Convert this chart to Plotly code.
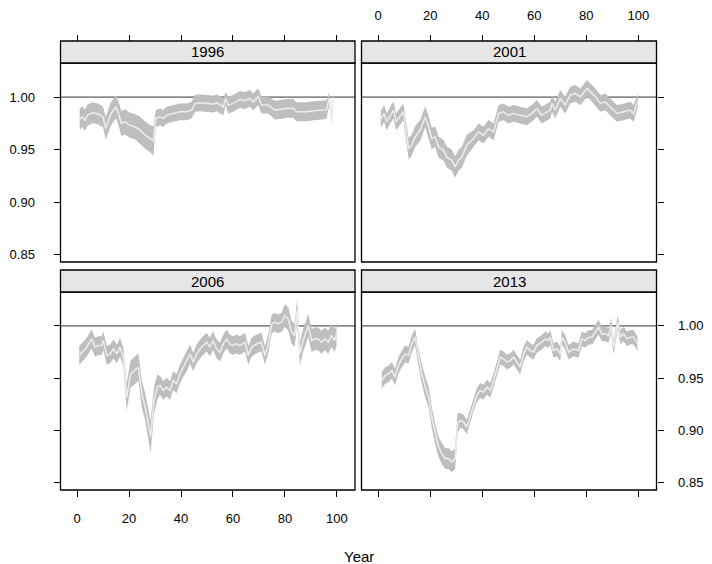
import plotly.graph_objects as go

# ---------------- data ----------------
panel_titles = ["1996", "2001", "2006", "2013"]
x_ticks = [0, 20, 40, 60, 80, 100]
y_ticks = [0.85, 0.90, 0.95, 1.00]
y_tick_labels = ["0.85", "0.90", "0.95", "1.00"]
ref_value = 1.0

x96 = [1, 2, 3, 4, 6, 8, 10, 11, 13, 15, 16, 17, 18.5, 20.4, 22.3, 24.2, 26.2, 28.1, 29.4, 30.3,
       31.9, 33.2, 34.4, 37, 39.6, 42.2, 44.1, 45.4, 47.3, 49.9, 52.4, 53.7, 55, 56.3, 57.2, 58.2,
       60.1, 62.7, 64.6, 66.5, 67.8, 69.7, 71, 73.6, 76.2, 78.2, 80.6, 83.2, 84.5, 85.8, 88.3, 91,
       93.5, 96, 97.1, 98, 98.6]
mid96 = [.9787, .9812, .978, .9828, .985, .984, .981, .970, .984, .9908, .984, .975, .9764, .973,
         .9717, .9685, .9637, .9605, .9583, .9796, .9812, .9796, .9828, .9844, .986, .986, .9876,
         .994, .9946, .994, .9933, .9946, .9924, .9908, .9987, .9924, .994, .9978, .9965, .9987,
         .9955, 1.0003, .9924, .9924, .9876, .9882, .9892, .9892, .986, .986, .986, .987, .9876,
         .988, .9987, .9796, .9997]
half96 = [.010, .010, .010, .010, .010, .010, .010, .011, .011, .011, .011, .012, .012, .012, .012,
          .013, .013, .013, .014, .008, .008, .008, .008, .008, .008, .008, .008, .008, .008, .008,
          .008, .008, .008, .008, .006, .008, .008, .008, .008, .008, .008, .008, .008, .008, .009,
          .009, .009, .009, .009, .009, .009, .009, .009, .009, .006, .004, .004]

x01 = [1.0, 2.3, 3.3, 4.6, 5.9, 6.9, 8.2, 9.7, 11.7, 12.9, 14.2, 16.2, 18.1, 19.4, 20.6, 21.9, 23.2,
       25.1, 26.4, 28.3, 29.6, 30.9, 32.2, 34.1, 36.7, 38.6, 40.5, 42.4, 44.4, 46.3, 48.2, 50.1,
       52.1, 54.6, 57.2, 59.7, 61.0, 62.9, 64.9, 66.2, 66.8, 68.1, 70.0, 71.9, 73.8, 75.8, 77.7,
       80.3, 82.2, 83.5, 85.4, 87.3, 89.2, 91.8, 94.4, 96.9, 98.2, 99.9]
mid01 = [.9787, .9844, .9764, .9828, .9876, .9764, .9812, .986, .951, .9541, .9621, .9685, .9812,
         .9717, .9605, .9621, .9525, .9494, .943, .9398, .9334, .9398, .943, .9541, .9605, .9669,
         .9637, .9701, .9669, .9844, .986, .9828, .9844, .9828, .9812, .986, .9892, .9828, .986,
         .9876, .994, .9876, .9987, .9924, 1.0019, 1.0035, 1.0003, 1.0083, 1.0035, 1.0003, .994,
         .9955, .9908, .9844, .986, .9876, .9844, .9971]
half01 = [.008, .008, .008, .008, .008, .008, .008, .008,
          .010, .010, .010, .010, .010, .010, .010, .010, .010, .010, .010, .010, .010, .010, .010, .010,
          .008, .008, .008, .008, .008, .008, .008, .008, .008, .008,
          .008, .008, .008, .008, .008, .008, .008, .008, .008, .008,
          .008, .008, .008, .008, .008, .008, .008, .008, .008, .008,
          .008, .008, .008, .006]

x06 = [0.8, 1.8, 3.7, 5.6, 6.9, 8.2, 9.5, 10.1, 11.4, 12.7, 14.0, 15.3, 16.5, 17.8, 19.1, 20.6, 22.3,
       23.6, 24.9, 26.2, 27.4, 28.3, 29.6, 30.9, 31.9, 33.2, 34.4, 35.8, 37.0, 38.3, 39.6, 40.9,
       42.2, 43.5, 44.7, 46.0, 47.9, 49.9, 51.1, 52.4, 53.7, 55.0, 56.3, 57.6, 58.8, 60.1, 61.4,
       62.7, 64.6, 65.9, 67.2, 69.1, 71.0, 72.3, 73.6, 74.9, 76.2, 77.4, 78.7, 80.0, 81.3, 82.6,
       83.8, 84.7, 85.8, 87.0, 89.0, 90.3, 91.5, 92.8, 94.1, 95.4, 96.7, 97.9, 99.2, 99.9]
mid06 = [.9717, .9748, .9796, .9876, .9796, .9812, .9812, .986, .9717, .9732, .978, .9732, .9796,
         .9701, .9318, .9541, .9573, .9605, .935, .9223, .9064, .8936, .9287, .9414, .943, .9382,
         .9414, .9382, .9478, .9446, .9541, .9605, .9653, .9732, .9653, .9732, .9796, .9844, .9796,
         .986, .978, .9748, .9828, .9876, .9828, .9812, .9828, .9812, .9844, .9717, .9796, .9828,
         .9844, .9717, .9828, 1.0019, 1.0035, 1.0019, 1.0035, 1.0099, 1.0067, .994, .9908, 1.0146,
         .9732, .986, 1.0003, .986, .9876, .9876, .9844, .9876, .9844, .9908, .986, .9924]
half06 = [.009, .009, .009, .009, .009, .009, .009, .009, .009, .009, .009, .009, .009, .009,
          .013, .013, .013, .013, .013, .013, .014, .015, .013, .012,
          .009, .009, .009, .009, .009, .009, .009, .009, .009, .009,
          .009, .009, .009, .009, .009, .009, .009, .009, .009, .009,
          .009, .009, .009, .009, .009, .009, .009, .009, .009, .009,
          .009, .009, .009, .009, .009,
          .011, .011, .011, .011, .011, .011, .011, .011, .011, .011,
          .011, .011, .011, .011, .011, .011, .011]

x13 = [1.4, 2.7, 4.0, 5.3, 6.5, 7.8, 9.1, 10.4, 11.7, 12.9, 14.2, 15.5, 16.8, 18.1, 19.4, 20.6, 21.9,
       23.2, 24.5, 25.8, 27.1, 28.3, 29.6, 30.5, 31.5, 32.8, 34.1, 35.4, 36.7, 37.9, 39.2, 40.5,
       41.8, 43.1, 44.4, 45.6, 46.9, 48.2, 49.5, 50.8, 52.1, 53.3, 54.6, 55.9, 57.2, 58.5, 59.7,
       61.0, 62.9, 64.2, 65.5, 66.2, 67.4, 68.7, 70.0, 70.6, 71.9, 73.2, 75.1, 77.0, 78.3, 79.6,
       80.9, 82.2, 83.5, 84.7, 86.0, 87.3, 88.6, 89.5, 90.5, 92.1, 93.1, 94.4, 95.6, 96.9, 98.2, 99.7]
mid13 = [.9478, .9525, .9541, .9573, .951, .9621, .9685, .9732, .9717, .9828, .9892, .9701, .9541,
         .9414, .9318, .9127, .8968, .8841, .8777, .8729, .8729, .8697, .8729, .9064, .9096, .908,
         .9032, .9143, .9255, .9334, .9382, .9366, .9414, .9382, .9478, .9589, .9701, .9685, .9653,
         .9669, .9701, .9653, .9605, .9732, .9796, .9764, .9748, .9812, .9844, .9876, .986, .9892,
         .9764, .978, .9732, .9892, .9844, .9748, .978, .9764, .9876, .986, .9892, .9892, .994,
         .9987, .9924, .9924, .9908, 1.0003, .9796, 1.0035, .9892, .9924, .9876, .9892, .9892, .9828]
half13 = [.008, .008, .008, .008, .008, .008, .008, .008, .008, .008, .008, .008,
          .010, .010, .010, .010, .010, .010, .010, .010, .010, .010, .010, .010,
          .007, .007, .007, .007, .007, .007, .007, .007, .007, .007,
          .007, .007, .007, .007, .007, .007, .007, .007, .007, .007,
          .007, .007, .007, .007, .007, .007, .007, .007, .007, .007,
          .007, .007, .007, .007, .007, .007, .007, .007, .007, .007,
          .007, .007, .007, .007, .007, .007, .007, .007, .007, .007,
          .007, .007, .007, .007]

series = [(x96, mid96, half96), (x01, mid01, half01), (x06, mid06, half06), (x13, mid13, half13)]

# ---------------- layout geometry ----------------
# The page body adds an 8px margin, so the figure is 704x556 and offsets subtract 8px.
OFF = 8
W, H = 712 - OFF, 564 - OFF
FONT = "Liberation Sans, Arial, Helvetica, sans-serif"
col_px = [(60.5, 355.0), (361.5, 656.5)]
body_px = [(63.0, 262.0), (292.0, 490.0)]   # top/bottom pixel rows of panel bodies
strip_px = [(41.0, 63.0), (270.0, 292.0)]
XR = [-6.4, 107.0]
YR = [0.8428, 1.0325]
BAND = "#BEBEBE"
MID = "#EBEBEB"


def px2fx(p):
    return (p - OFF) / W


def px2fy(p):
    return 1 - (p - OFF) / H


fig = go.Figure()
shapes = []
annotations = []

for i, (xs, mids, halfs) in enumerate(series):
    r, c = divmod(i, 2)
    n = i + 1
    xa = "x" if n == 1 else f"x{n}"
    ya = "y" if n == 1 else f"y{n}"
    hi = [m + h for m, h in zip(mids, halfs)]
    lo = [m - h for m, h in zip(mids, halfs)]
    fig.add_trace(go.Scatter(x=xs + xs[::-1], y=hi + lo[::-1], fill="toself",
                             fillcolor=BAND, line=dict(width=0), mode="lines",
                             hoverinfo="skip", showlegend=False, xaxis=xa, yaxis=ya))
    fig.add_trace(go.Scatter(x=xs, y=mids, mode="lines", line=dict(color=MID, width=1.6),
                             showlegend=False, xaxis=xa, yaxis=ya))

    xd = [px2fx(col_px[c][0]), px2fx(col_px[c][1])]
    yd = [px2fy(body_px[r][1]), px2fy(body_px[r][0])]

    xaxis = dict(domain=xd, range=XR, tickvals=x_ticks, ticks="outside", ticklen=6,
                 tickcolor="black", tickwidth=1, showgrid=False, zeroline=False,
                 showline=False, tickfont=dict(family=FONT, size=13, color="black"),
                 ticklabelstandoff=10)
    if r == 0:
        xaxis.update(anchor="free", position=px2fy(strip_px[0][0]), side="top",
                     showticklabels=(c == 1))
    else:
        xaxis.update(anchor=ya, side="bottom", showticklabels=(c == 0))
    yaxis = dict(domain=yd, range=YR, tickvals=y_ticks, ticktext=y_tick_labels,
                 ticks="outside", ticklen=6, tickcolor="black", tickwidth=1,
                 showgrid=False, zeroline=False, showline=False, anchor=xa,
                 tickfont=dict(family=FONT, size=13, color="black"))
    if c == 0:
        yaxis.update(side="left", showticklabels=(r == 0), ticklabelstandoff=16)
    else:
        yaxis.update(side="right", showticklabels=(r == 1), ticklabelstandoff=12)
    key = "" if n == 1 else str(n)
    fig.layout["xaxis" + key] = xaxis
    fig.layout["yaxis" + key] = yaxis

    shapes.append(dict(type="line", xref=f"{xa} domain", yref=ya, x0=0, x1=1,
                       y0=ref_value, y1=ref_value, line=dict(color="#333333", width=1),
                       layer="below"))
    shapes.append(dict(type="rect", xref="paper", yref="paper", x0=xd[0], x1=xd[1],
                       y0=yd[0], y1=yd[1], line=dict(color="black", width=1.3),
                       fillcolor="rgba(0,0,0,0)", layer="above"))
    sy0, sy1 = px2fy(strip_px[r][1]), px2fy(strip_px[r][0])
    shapes.append(dict(type="rect", xref="paper", yref="paper", x0=xd[0], x1=xd[1],
                       y0=sy0, y1=sy1, line=dict(color="black", width=1.3),
                       fillcolor="#E6E6E6", layer="above"))
    annotations.append(dict(text=panel_titles[i], xref="paper", yref="paper",
                            x=(xd[0] + xd[1]) / 2, y=(sy0 + sy1) / 2, showarrow=False,
                            xanchor="center", yanchor="middle",
                            font=dict(family=FONT, size=15, color="black")))

annotations.append(dict(text="Year", xref="paper", yref="paper", x=px2fx(358.5),
                        y=px2fy(556), showarrow=False, xanchor="center", yanchor="middle",
                        font=dict(family=FONT, size=15, color="black")))

fig.update_layout(width=W, height=H, margin=dict(l=0, r=0, t=0, b=0, pad=0),
                  paper_bgcolor="white", plot_bgcolor="white", shapes=shapes,
                  annotations=annotations, showlegend=False)

fig.write_html("out.html")
